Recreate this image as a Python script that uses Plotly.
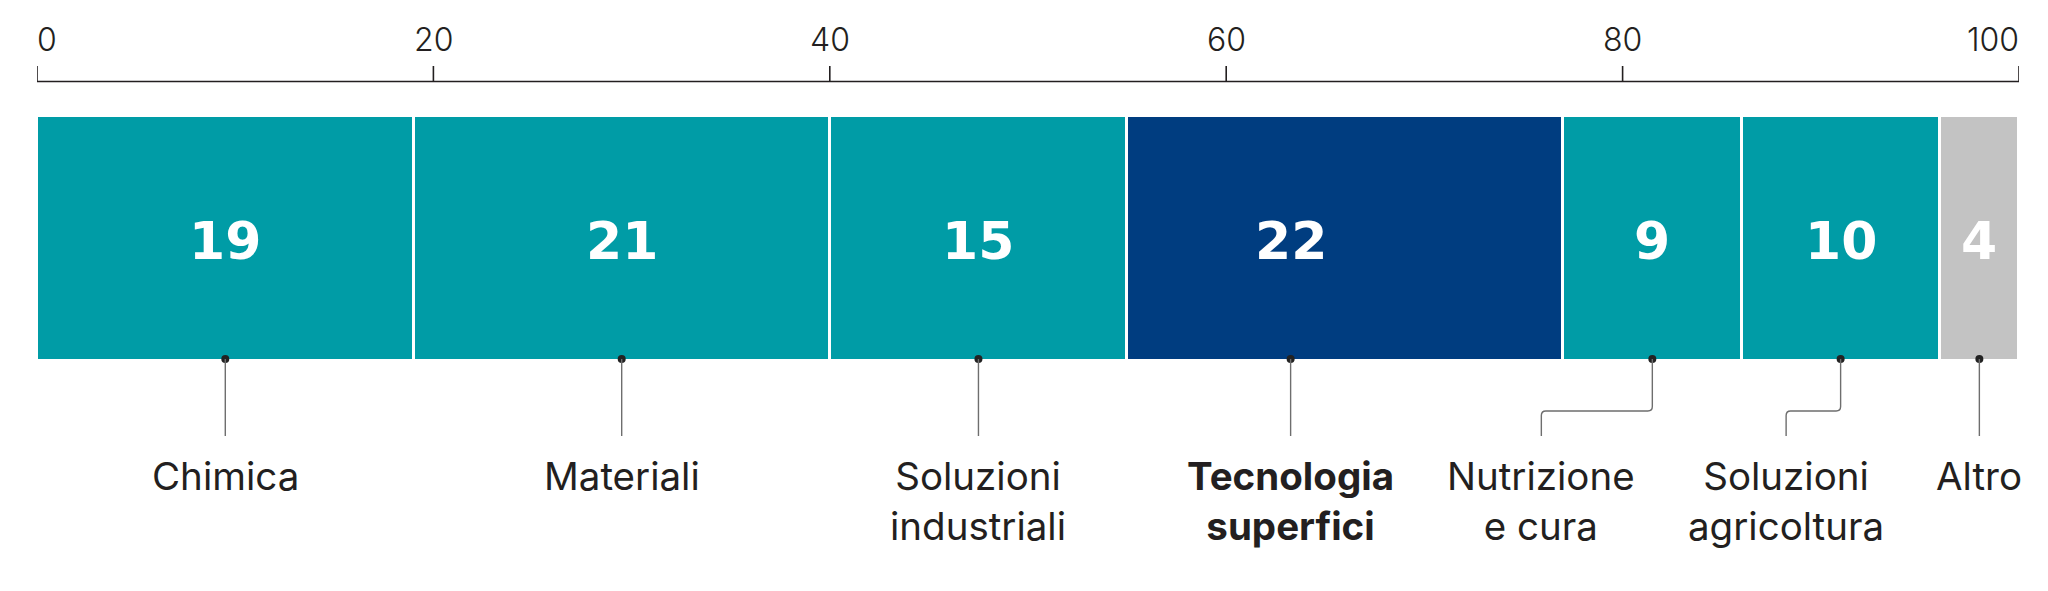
import plotly.graph_objects as go

# Quote per settore (%), barra unica impilata
categories = ["Chimica", "Materiali", "Soluzioni industriali", "Tecnologia superfici",
              "Nutrizione e cura", "Soluzioni agricoltura", "Altro"]
label_text = ["Chimica", "Materiali", "Soluzioni<br>industriali", "<b>Tecnologia<br>superfici</b>",
              "Nutrizione<br>e cura", "Soluzioni<br>agricoltura", "Altro"]
values = [19, 21, 15, 22, 9, 10, 4]
tick_values = [0, 20, 40, 60, 80, 100]
tick_labels = ["0", "20", "40", "60", "80", "100"]

# Styling
TEAL = "#009ca6"
NAVY = "#003d80"
GREY = "#c3c3c3"
colors = [TEAL, TEAL, TEAL, NAVY, TEAL, TEAL, GREY]

# Where the value/leader sits inside its segment (fraction of the segment), and
# where the text label sits relative to the leader anchor (axis units)
anchor_frac = [0.5, 0.5, 0.5, 0.375, 0.5, 0.5, 0.5]
label_shift = [0, 0, 0, 0, -5.6, -2.75, 0]

W, H = 2048, 591
ML, MR = 37, 29
BAR_TOP, BAR_BOT = 117.5, 359.0
PPU = BAR_BOT - BAR_TOP            # pixels per y unit (bar thickness = 1)
Y_TOP = 0.5 + BAR_TOP / PPU
Y_BOT = 0.5 - (H - BAR_TOP) / PPU
XPPU = (W - ML - MR) / 100.0       # pixels per x unit


def y_at(px):
    return 0.5 - (px - BAR_TOP) / PPU


fig = go.Figure()

starts = []
acc = 0
for v in values:
    starts.append(acc)
    acc += v

for cat, v, c in zip(categories, values, colors):
    fig.add_trace(go.Bar(
        y=[0], x=[v], orientation="h", name=cat, width=1.0 + 3 / PPU,
        marker=dict(color=c, line=dict(color="white", width=3)),
        hoverinfo="skip", showlegend=False,
    ))

anchors = [s + v * f for s, v, f in zip(starts, values, anchor_frac)]

# Value labels inside the segments
for a, v in zip(anchors, values):
    fig.add_annotation(x=a, y=y_at(241), text=str(v), showarrow=False,
                       xref="x", yref="y", yanchor="middle",
                       font=dict(family="DejaVu Sans", size=52, color="white", weight=700))

# Leader lines from bar bottom to labels
LINE_COL = "#6e6e6e"
y0 = y_at(BAR_BOT)
y_elbow = y_at(411)
y_end = y_at(436)
r = 4.5
for a, sh in zip(anchors, label_shift):
    if sh == 0:
        fig.add_shape(type="line", x0=a, x1=a, y0=y0, y1=y_end, xref="x", yref="y",
                      line=dict(color=LINE_COL, width=1.4))
    else:
        lx = a + sh
        rx = r / XPPU
        ry = r / PPU
        path = (f"M {a},{y0} L {a},{y_elbow + ry} Q {a},{y_elbow} {a - rx},{y_elbow} "
                f"L {lx + rx},{y_elbow} Q {lx},{y_elbow} {lx},{y_elbow - ry} L {lx},{y_end}")
        fig.add_shape(type="path", path=path, xref="x", yref="y",
                      line=dict(color=LINE_COL, width=1.4))

fig.add_trace(go.Scatter(x=anchors, y=[y0] * len(anchors), mode="markers",
                         marker=dict(color="#222222", size=8), hoverinfo="skip",
                         showlegend=False))

# Category labels
for a, sh, t in zip(anchors, label_shift, label_text):
    fig.add_annotation(x=a + sh, y=y_at(451), text=t, showarrow=False,
                       xref="x", yref="y", yanchor="top", align="center",
                       font=dict(family="Inter", size=38.5, color="#231f20"))

# Scale along the top
y_axis_line = y_at(81.5)
y_tick_top = y_at(66)
fig.add_shape(type="line", x0=0, x1=100, y0=y_axis_line, y1=y_axis_line,
              xref="x", yref="y", line=dict(color="#231f20", width=1.6))
for tv, tl in zip(tick_values, tick_labels):
    fig.add_shape(type="line", x0=tv, x1=tv, y0=y_axis_line, y1=y_tick_top,
                  xref="x", yref="y", line=dict(color="#231f20", width=1.6))
    xa = "left" if tv == tick_values[0] else ("right" if tv == tick_values[-1] else "center")
    fig.add_annotation(x=tv, y=y_at(39), text=tl, showarrow=False, xref="x", yref="y",
                       xanchor=xa, yanchor="middle",
                       xshift=(-2 if xa == "left" else (2 if xa == "right" else 0)),
                       font=dict(family="Inter", size=32, color="#231f20", weight=300))

fig.update_layout(
    width=W, height=H, barmode="stack", bargap=0,
    margin=dict(l=ML, r=MR, t=0, b=0),
    paper_bgcolor="white", plot_bgcolor="white",
    xaxis=dict(range=[0, 100], visible=False, fixedrange=True),
    yaxis=dict(range=[Y_BOT, Y_TOP], visible=False, fixedrange=True),
)

fig.write_html("out.html")
